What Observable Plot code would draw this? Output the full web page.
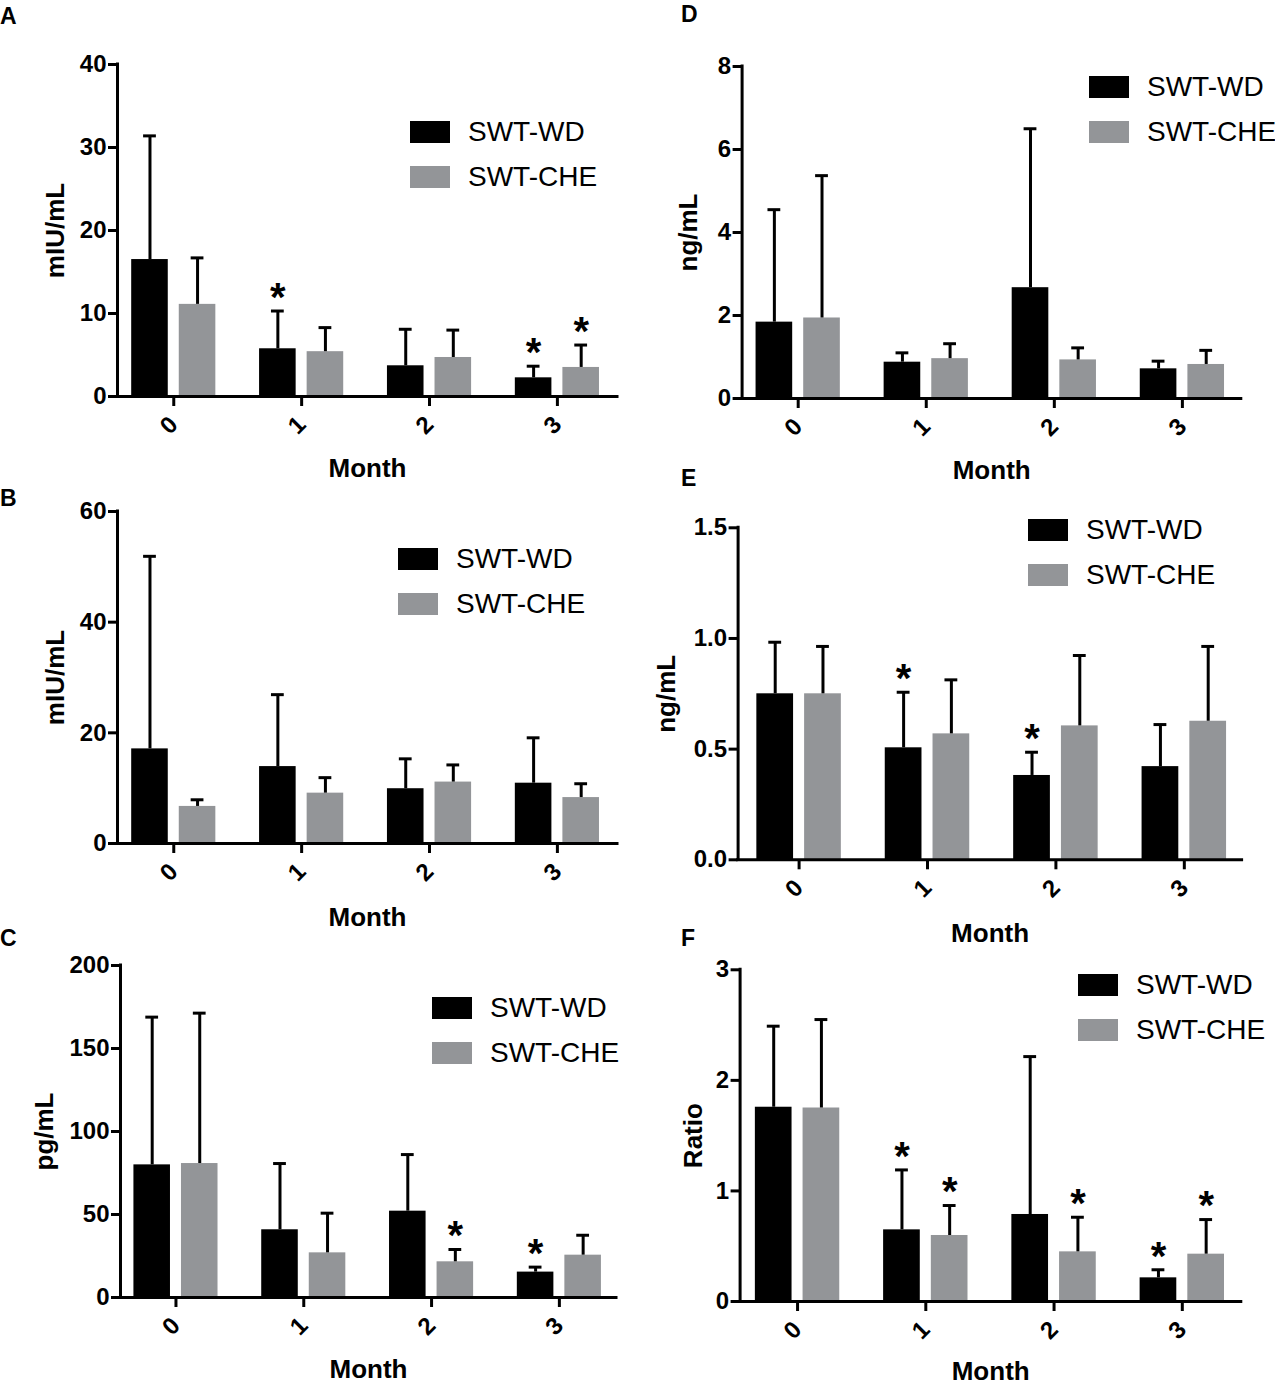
<!DOCTYPE html>
<html><head><meta charset="utf-8">
<script src="https://cdn.jsdelivr.net/npm/d3@7"></script>
<script src="https://cdn.jsdelivr.net/npm/@observablehq/plot@0.6"></script>
<style>
body{margin:0;background:#fff;}
#root{position:relative;width:1275px;height:1386px;overflow:hidden;background:#fff;font-family:"Liberation Sans",Arial,sans-serif;color:#000;}
.panel{position:absolute;}
.letter{position:absolute;font-size:23px;font-weight:bold;line-height:23px;}
.legend{position:absolute;display:flex;flex-direction:column;gap:23px;}
.row{display:flex;align-items:center;height:22px;}
.sw{width:40px;height:22px;margin-right:18px;flex:none;}
.lt{font-size:28px;line-height:22px;white-space:nowrap;}
</style></head><body><div id="root"></div>
<script>
// ---------- data ----------
const months = [0, 1, 2, 3];
const seriesNames = ["SWT-WD", "SWT-CHE"];
const seriesColors = ["#000000", "#939598"];

// Panel A (mIU/mL)
const aWD = [16.5, 5.75, 3.7, 2.25];
const aWDsd = [14.9, 4.55, 4.4, 1.4];
const aCHE = [11.1, 5.4, 4.7, 3.5];
const aCHEsd = [5.6, 2.9, 3.3, 2.7];
const aStars = [["SWT-WD", 1], ["SWT-WD", 3], ["SWT-CHE", 3]];
const aTicks = [0, 10, 20, 30, 40];

// Panel B (mIU/mL)
const bWD = [17.1, 13.9, 9.9, 10.9];
const bWDsd = [34.8, 13.0, 5.4, 8.2];
const bCHE = [6.7, 9.1, 11.1, 8.3];
const bCHEsd = [1.2, 2.8, 3.1, 2.5];
const bStars = [];
const bTicks = [0, 20, 40, 60];

// Panel C (pg/mL)
const cWD = [79.9, 40.8, 52.0, 15.3];
const cWDsd = [89.0, 39.9, 34.1, 3.0];
const cCHE = [80.7, 26.9, 21.5, 25.5];
const cCHEsd = [90.6, 23.9, 7.4, 12.0];
const cStars = [["SWT-CHE", 2], ["SWT-WD", 3]];
const cTicks = [0, 50, 100, 150, 200];

// Panel D (ng/mL)
const dWD = [1.84, 0.875, 2.67, 0.715];
const dWDsd = [2.71, 0.225, 3.83, 0.185];
const dCHE = [1.94, 0.96, 0.93, 0.82];
const dCHEsd = [3.43, 0.36, 0.29, 0.34];
const dStars = [];
const dTicks = [0, 2, 4, 6, 8];

// Panel E (ng/mL)
const eWD = [0.75, 0.506, 0.381, 0.421];
const eWDsd = [0.233, 0.251, 0.105, 0.19];
const eCHE = [0.75, 0.569, 0.605, 0.626];
const eCHEsd = [0.214, 0.244, 0.318, 0.338];
const eStars = [["SWT-WD", 1], ["SWT-WD", 2]];
const eTicks = [0, 0.5, 1.0, 1.5];

// Panel F (Ratio)
const fWD = [1.757, 0.648, 0.787, 0.214];
const fWDsd = [0.733, 0.542, 1.428, 0.073];
const fCHE = [1.75, 0.597, 0.449, 0.428];
const fCHEsd = [0.8, 0.271, 0.313, 0.313];
const fStars = [["SWT-WD", 1], ["SWT-CHE", 1], ["SWT-CHE", 2], ["SWT-WD", 3], ["SWT-CHE", 3]];
const fTicks = [0, 1, 2, 3];

const panelLetters = ["A", "B", "C", "D", "E", "F"];
const xLabel = "Month";

// ---------- layout & drawing ----------
const FONT = "'Liberation Sans', Arial, sans-serif";
const root = document.getElementById("root");

const panels = [
  {letter:"A", wd:aWD, wdSd:aWDsd, che:aCHE, cheSd:aCHEsd, stars:aStars, ticks:aTicks, fmt:d=>String(d), ylabel:"mIU/mL",
   left:0, top:0, w:637, h:490, ml:117, mr:20, mt:64, mb:94, xd:[-0.44,3.47], ldx:-62, mdy:72,
   leg:[410,121], let:[0,5]},
  {letter:"B", wd:bWD, wdSd:bWDsd, che:bCHE, cheSd:bCHEsd, stars:bStars, ticks:bTicks, fmt:d=>String(d), ylabel:"mIU/mL",
   left:0, top:460, w:637, h:480, ml:117, mr:20, mt:51, mb:97, xd:[-0.44,3.47], ldx:-62, mdy:74,
   leg:[398,548], let:[0,487]},
  {letter:"C", wd:cWD, wdSd:cWDsd, che:cCHE, cheSd:cCHEsd, stars:cStars, ticks:cTicks, fmt:d=>String(d), ylabel:"pg/mL",
   left:0, top:920, w:637, h:466, ml:120, mr:21, mt:45, mb:89, xd:[-0.434,3.447], ldx:-76, mdy:72,
   leg:[432,997], let:[0,927]},
  {letter:"D", wd:dWD, wdSd:dWDsd, che:dCHE, cheSd:dCHEsd, stars:dStars, ticks:dTicks, fmt:d=>String(d), ylabel:"ng/mL",
   left:637, top:0, w:638, h:490, ml:104.6, mr:34.2, mt:66, mb:92, xd:[-0.438,3.46], ldx:-53.6, mdy:72,
   leg:[1089,76], let:[681,3]},
  {letter:"E", wd:eWD, wdSd:eWDsd, che:eCHE, cheSd:eCHEsd, stars:eStars, ticks:eTicks, fmt:d3.format(".1f"), ylabel:"ng/mL",
   left:637, top:460, w:638, h:480, ml:100.6, mr:33.4, mt:67.3, mb:80.7, xd:[-0.475,3.45], ldx:-71.6, mdy:74,
   leg:[1028,519], let:[681,467]},
  {letter:"F", wd:fWD, wdSd:fWDsd, che:fCHE, cheSd:fCHEsd, stars:fStars, ticks:fTicks, fmt:d=>String(d), ylabel:"Ratio",
   left:637, top:920, w:638, h:466, ml:102.6, mr:34.2, mt:49.3, mb:85, xd:[-0.448,3.46], ldx:-46.6, mdy:70,
   leg:[1078,974], let:[681,927]}
];

const offsets = {"SWT-WD": -0.186, "SWT-CHE": 0.186};
const halfW = 0.143, capHalf = 0.05;

function drawPanel(p) {
  const rows = [];
  months.forEach((m, i) => {
    rows.push({month: m, series: "SWT-WD", mean: p.wd[i], sd: p.wdSd[i]});
    rows.push({month: m, series: "SWT-CHE", mean: p.che[i], sd: p.cheSd[i]});
  });
  rows.forEach(r => r.star = p.stars.some(([s, m]) => s === r.series && m === r.month));
  const cx = d => d.month + offsets[d.series];
  const top = d => d.mean + d.sd;
  const ymax = p.ticks[p.ticks.length - 1];
  const [x0, x1] = p.xd;

  const svg = Plot.plot({
    width: p.w, height: p.h,
    marginLeft: p.ml, marginRight: p.mr, marginTop: p.mt, marginBottom: p.mb,
    x: {type: "linear", domain: p.xd},
    y: {domain: [0, ymax]},
    color: {domain: seriesNames, range: seriesColors},
    style: {fontFamily: FONT, background: "transparent", overflow: "visible", color: "#000"},
    marks: [
      Plot.rect(rows, {x1: d => cx(d) - halfW, x2: d => cx(d) + halfW, y1: d => 0, y2: "mean", fill: "series"}),
      Plot.ruleX(rows, {x: cx, y1: "mean", y2: top, stroke: "#000", strokeWidth: 3}),
      Plot.ruleY(rows, {y: top, x1: d => cx(d) - capHalf, x2: d => cx(d) + capHalf, stroke: "#000", strokeWidth: 3}),
      Plot.ruleX([x0], {y1: () => 0, y2: () => ymax, stroke: "#000", strokeWidth: 3, strokeLinecap: "square"}),
      Plot.ruleY([0], {x1: () => x0, x2: () => x1, stroke: "#000", strokeWidth: 3, strokeLinecap: "square"}),
      Plot.axisY({ticks: p.ticks, tickFormat: p.fmt, tickSize: 9, tickPadding: 2, fontSize: 24, fontWeight: "bold",
                  strokeWidth: 3, label: null}),
      Plot.axisX({ticks: months, tickFormat: d => String(d), tickRotate: -45, tickSize: 10, tickPadding: 14,
                  fontSize: 24, fontWeight: "bold", strokeWidth: 3, label: null}),
      Plot.text(rows.filter(d => d.star), {x: cx, y: top, text: () => "*", dy: -13, fontSize: 40, fontWeight: "bold", fill: "#000"}),
      Plot.text([xLabel], {text: d => d, frameAnchor: "bottom", lineAnchor: "middle", textAnchor: "middle", dy: p.mdy,
                           fontSize: 26, fontWeight: "bold", fill: "#000"}),
      Plot.text([p.ylabel], {text: d => d, frameAnchor: "left", textAnchor: "middle", lineAnchor: "middle", rotate: -90,
                             dx: p.ldx, fontSize: 26, fontWeight: "bold", fill: "#000"})
    ]
  });
  const wrap = document.createElement("div");
  wrap.className = "panel";
  wrap.style.left = p.left + "px";
  wrap.style.top = p.top + "px";
  wrap.appendChild(svg);
  root.appendChild(wrap);

  // legend
  const lg = document.createElement("div");
  lg.className = "legend";
  lg.style.left = p.leg[0] + "px";
  lg.style.top = p.leg[1] + "px";
  seriesNames.forEach((s, i) => {
    const row = document.createElement("div");
    row.className = "row";
    const sw = document.createElement("div");
    sw.className = "sw";
    sw.style.background = seriesColors[i];
    const t = document.createElement("div");
    t.className = "lt";
    t.textContent = s;
    row.appendChild(sw); row.appendChild(t);
    lg.appendChild(row);
  });
  root.appendChild(lg);

  // panel letter
  const L = document.createElement("div");
  L.className = "letter";
  L.style.left = p.let[0] + "px";
  L.style.top = p.let[1] + "px";
  L.textContent = p.letter;
  root.appendChild(L);
}

panels.forEach(drawPanel);
</script>
</body></html>
